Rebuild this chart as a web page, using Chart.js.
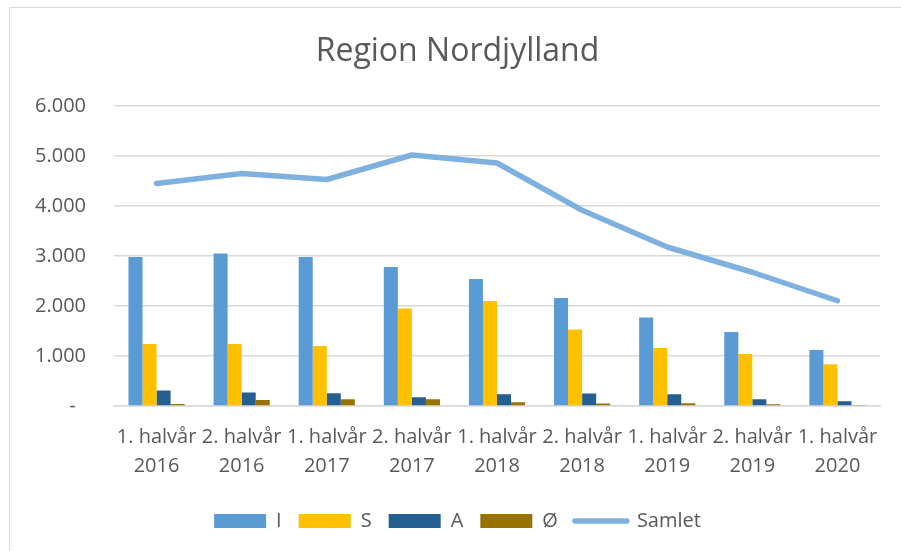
<!DOCTYPE html>
<html>
<head>
<meta charset="utf-8">
<script src="https://cdn.jsdelivr.net/npm/chart.js@4/dist/chart.umd.min.js"></script>
<style>
  html, body { margin: 0; padding: 0; background: #fff; overflow: hidden; }
  #frame { position: absolute; left: 9px; top: 7px; width: 950px; height: 600px; border: 1px solid #d9d9d9; }
  #wrap { position: absolute; left: 10px; top: 8px; width: 891px; height: 543px; }
</style>
</head>
<body>
<div id="frame"></div>
<div id="wrap"><canvas id="chart"></canvas></div>
<script>
  const periods = [
    ['1. halvår', '2016'], ['2. halvår', '2016'], ['1. halvår', '2017'],
    ['2. halvår', '2017'], ['1. halvår', '2018'], ['2. halvår', '2018'],
    ['1. halvår', '2019'], ['2. halvår', '2019'], ['1. halvår', '2020']
  ];
  const valuesI = [2980, 3050, 2980, 2780, 2540, 2160, 1770, 1480, 1120];
  const valuesS = [1240, 1240, 1200, 1950, 2100, 1530, 1160, 1040, 835];
  const valuesA = [310, 270, 255, 175, 235, 250, 235, 135, 95];
  const valuesO = [40, 120, 135, 135, 75, 50, 55, 35, 10];
  const valuesSamlet = [4450, 4650, 4530, 5020, 4860, 3915, 3180, 2675, 2105];
  const yTicks = [0, 1000, 2000, 3000, 4000, 5000, 6000];

  const textColor = '#595959';
  const gridColor = '#d9d9d9';
  Chart.defaults.font.family = "'Open Sans'";
  Chart.defaults.color = textColor;

  function fmt(v) {
    if (v === 0) return '-  ';
    return String(v).replace(/\B(?=(\d{3})+(?!\d))/g, '.');
  }

  function bar(label, data, color) {
    return {
      type: 'bar', label: label, data: data,
      backgroundColor: color, borderWidth: 0,
      barPercentage: 1, categoryPercentage: 0.66
    };
  }

  const ctx = document.getElementById('chart').getContext('2d');
  const chart = new Chart(ctx, {
    data: {
      labels: periods,
      datasets: [
        bar('I', valuesI, '#5b9bd5'),
        bar('S', valuesS, '#ffc000'),
        bar('A', valuesA, '#255e91'),
        bar('Ø', valuesO, '#997300'),
        {
          type: 'line', label: 'Samlet', data: valuesSamlet,
          borderColor: '#7fb1df', backgroundColor: '#7fb1df',
          borderWidth: 5.5, pointRadius: 0, tension: 0,
          borderCapStyle: 'round', borderJoinStyle: 'round', fill: false
        }
      ]
    },
    options: {
      responsive: true,
      maintainAspectRatio: false,
      animation: false,
      layout: { padding: { left: 25, right: 21, top: 0, bottom: 10 } },
      plugins: {
        tooltip: { enabled: false },
        title: {
          display: true, text: 'Region Nordjylland', color: textColor,
          font: { size: 32, weight: 'normal' },
          padding: { top: 25, bottom: 34.6 }
        },
        legend: {
          position: 'bottom',
          labels: {
            usePointStyle: true, pointStyleWidth: 52, boxHeight: 14,
            padding: 17, color: textColor, font: { size: 20 },
            generateLabels: function (c) {
              return c.data.datasets.map(function (ds, i) {
                const isLine = ds.type === 'line';
                return {
                  text: ds.label, datasetIndex: i,
                  fillStyle: isLine ? ds.borderColor : ds.backgroundColor,
                  strokeStyle: isLine ? ds.borderColor : ds.backgroundColor,
                  lineWidth: isLine ? ds.borderWidth : 0,
                  lineCap: 'round',
                  pointStyle: isLine ? 'line' : 'rect',
                  fontColor: textColor, hidden: false
                };
              });
            }
          }
        }
      },
      scales: {
        x: {
          grid: { display: false },
          border: { display: true, color: gridColor, width: 1.5 },
          afterFit: function (axis) { axis.height += 4; },
          ticks: {
            autoSkip: false, maxRotation: 0, minRotation: 0,
            padding: 9, color: textColor,
            font: { size: 20, lineHeight: 1.45 }
          }
        },
        y: {
          min: 0, max: 6000,
          afterBuildTicks: function (axis) {
            axis.ticks = yTicks.map(function (v) { return { value: v }; });
          },
          afterFit: function (axis) { axis.width = 79; },
          grid: { color: gridColor, lineWidth: 1.5, drawTicks: false },
          border: { display: false },
          ticks: {
            padding: 28, color: textColor, font: { size: 20 },
            callback: function (v) { return fmt(v); }
          }
        }
      }
    }
  });
</script>
</body>
</html>
